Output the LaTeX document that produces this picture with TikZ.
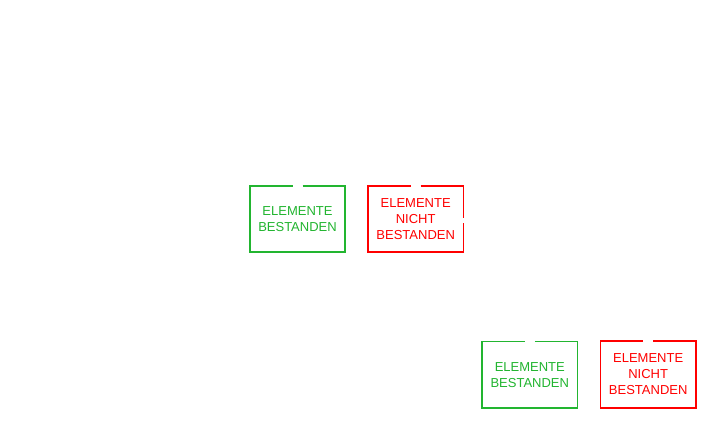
\documentclass[tikz,border=0pt]{standalone}
\usepackage{fontspec}
\setmainfont{Liberation Sans}
\usetikzlibrary{calc}
\definecolor{cOK}{HTML}{22B530}
\definecolor{cFAIL}{HTML}{FF0000}
\tikzset{
  result/.style={minimum width=95pt, minimum height=66pt, inner sep=0pt,
    align=center, font=\fontsize{13}{16}\selectfont},
  boxline/.style={line width=1.8pt},
}
\begin{document}
\begin{tikzpicture}[x=1pt, y=-1pt]
  \useasboundingbox[fill=white] (0,0) rectangle (716,422);

  % Upper pair of results
  \node[result, text=cOK] (okA) at (297.5,219) {ELEMENTE\\BESTANDEN};
  \node[result, text=cFAIL] (failA) at (415.7,219) {ELEMENTE\\NICHT\\BESTANDEN};

  % Lower pair of results
  \node[result, text=cOK] (okB) at (529.8,374.7) {ELEMENTE\\BESTANDEN};
  \node[result, text=cFAIL] (failB) at (648.2,374.5) {ELEMENTE\\NICHT\\BESTANDEN};

  % Frames, open at the top
  \foreach \n/\c in {okA/cOK, okB/cOK, failB/cFAIL}
    \draw[boxline, \c] ($(\n.north)+(5,0)$) -- (\n.north east) -- (\n.south east)
      -- (\n.south west) -- (\n.north west) -- ($(\n.north)+(-5,0)$);

  % Second frame is also open on the right
  \draw[boxline, cFAIL] ($(failA.north)+(5,0)$) -- (failA.north east) -- ($(failA.east)+(0,-1)$);
  \draw[boxline, cFAIL] ($(failA.east)+(0,4.5)$) -- (failA.south east) -- (failA.south west)
    -- (failA.north west) -- ($(failA.north)+(-5,0)$);
\end{tikzpicture}
\end{document}
